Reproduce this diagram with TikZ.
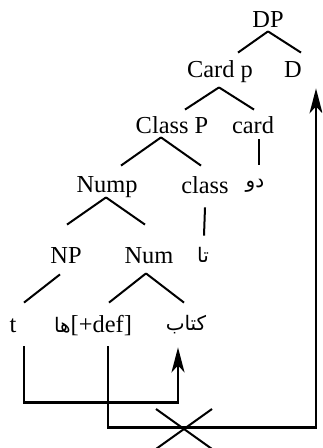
\documentclass[tikz,border=0pt]{standalone}
\usepackage{fontspec}
\setmainfont{Liberation Serif}
\newfontfamily\arabicfont[Script=Arabic]{DejaVu Sans}
\TeXXeTstate=1
\usetikzlibrary{arrows.meta,shapes.misc}
\newcommand\arword[1]{{\arabicfont\fontsize{10pt}{12pt}\selectfont\beginR #1\endR}}

\begin{document}
\begin{tikzpicture}[x=0.5pt,y=-0.5pt,
    lbl/.style={inner sep=0pt,text height=8pt,text depth=2.5pt,anchor=base,
      font=\fontsize{12.2pt}{14pt}\selectfont},
    branch/.style={line width=1pt},
    move/.style={line width=1.2pt,-{Stealth[length=12.5pt,width=6.5pt,inset=3.5pt]}}]
  \clip (0,0) rectangle (322,448);
  % labels of the tree
  \node[lbl] (DP)    at (268,28)  {DP};
  \node[lbl] (Cardp) at (220,78)  {Card p};
  \node[lbl] (D)     at (293,78)  {D};
  \node[lbl] (ClassP) at (172,134) {Class P};
  \node[lbl] (card)  at (253,134) {card};
  \node[lbl] (Nump)  at (107,192) {Nump};
  \node[lbl] (class) at (205,194) {class};
  \node[lbl] (do)    at (255,188) {\arword{دو}};
  \node[lbl] (ta)    at (203,262) {\arword{تا}};
  \node[lbl] (NP)    at (66,263)  {NP};
  \node[lbl] (Num)   at (149,263) {Num};
  \node[lbl] (t)     at (13,332)  {t};
  \node[lbl] (def)   at (93,332)  {\arword{ها}[+def]};
  \node[lbl] (ketab) at (186,330) {\arword{كتاب}};
  % branches
  \foreach \p/\px/\py/\c/\cx/\cy in {DP/0/-2/Cardp/18/-9, DP/0/-2/D/8/-9,
      Cardp/-1/4/ClassP/13/-8, Cardp/-1/4/card/1/-8,
      ClassP/-11/-2/Nump/14/-10, ClassP/-11/-2/class/-4/-12,
      card/6/0/do/4/-7, class/0/8/ta/1/-10,
      Nump/-1/0/NP/1/-22, Nump/-1/0/Num/-4/-22,
      NP/-6/6/t/11/-13, Num/-3/5/def/16/-13, Num/-3/5/ketab/-2/-11}
    \draw[branch] ([shift={(\px,\py)}]\p.south) -- ([shift={(\cx,\cy)}]\c.north);
  % movements
  \draw[move] ([shift={(11,9)}]t.south) -- ++(0,56) -| ([shift={(-8,12)}]ketab.south);
  \draw[move] ([shift={(15,9)}]def.south) -- ++(0,81) -| ([shift={(23,5)}]D.south);
  \coordinate (block) at (184,429);
  \node[draw,cross out,line width=1pt,minimum width=27pt,minimum height=19pt] (stop) at (block) {};
\end{tikzpicture}
\end{document}
